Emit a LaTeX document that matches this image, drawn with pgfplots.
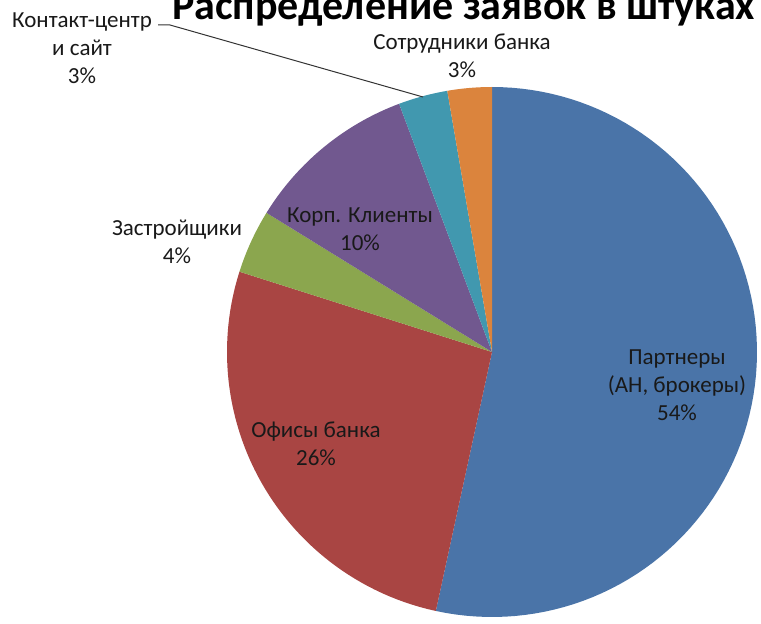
\documentclass[border=0pt]{standalone}
\usepackage{pgfplots}
\pgfplotsset{compat=1.18}
\usepackage{fontspec}
\setmainfont{Carlito}
\definecolor{cBlue}{HTML}{4A74A8}
\definecolor{cRed}{HTML}{A94543}
\definecolor{cGreen}{HTML}{8BA64E}
\definecolor{cPurple}{HTML}{71588F}
\definecolor{cTeal}{HTML}{4198AF}
\definecolor{cOrange}{HTML}{DB843D}
% shares (percent), clockwise from 12 o'clock
\def\pP{53.4}\def\pO{26.5}\def\pZ{3.9}\def\pK{10.5}\def\pC{3.0}\def\pS{2.7}
\pgfmathsetmacro\angA{90}
\pgfmathsetmacro\angB{\angA-3.6*\pP}
\pgfmathsetmacro\angC{\angB-3.6*\pO}
\pgfmathsetmacro\angD{\angC-3.6*\pZ}
\pgfmathsetmacro\angE{\angD-3.6*\pK}
\pgfmathsetmacro\angF{\angE-3.6*\pC}
\pgfmathsetmacro\angG{\angF-3.6*\pS}
\begin{document}
\begin{tikzpicture}
\begin{axis}[
  scale only axis, width=761pt, height=624pt,
  xmin=0, xmax=761, ymin=0, ymax=624,
  hide axis, clip=false,
  every axis plot/.append style={draw=none, samples=90, variable=\t},
]
\addplot[fill=cBlue, domain=\angB:\angA] ({492+265*cos(\t)},{272+265*sin(\t)}) -- (axis cs:492,272) -- cycle;
\addplot[fill=cRed, domain=\angC:\angB] ({492+265*cos(\t)},{272+265*sin(\t)}) -- (axis cs:492,272) -- cycle;
\addplot[fill=cGreen, domain=\angD:\angC] ({492+265*cos(\t)},{272+265*sin(\t)}) -- (axis cs:492,272) -- cycle;
\addplot[fill=cPurple, domain=\angE:\angD] ({492+265*cos(\t)},{272+265*sin(\t)}) -- (axis cs:492,272) -- cycle;
\addplot[fill=cTeal, domain=\angF:\angE] ({492+265*cos(\t)},{272+265*sin(\t)}) -- (axis cs:492,272) -- cycle;
\addplot[fill=cOrange, domain=\angG:\angF] ({492+265*cos(\t)},{272+265*sin(\t)}) -- (axis cs:492,272) -- cycle;
% leader line
\draw[black!80, line width=1pt] (axis cs:158,599) -- (axis cs:170,599) -- (axis cs:423,527);
% labels
\tikzset{lbl/.style={align=center, text=black!90, font=\fontsize{23}{28}\selectfont, inner sep=0pt}}
\node[lbl] at (axis cs:82,576) {Контакт-центр\\и сайт\\3\%};
\node[lbl] at (axis cs:462,568) {Сотрудники банка\\3\%};
\node[lbl] at (axis cs:177,382) {Застройщики\\4\%};
\node[lbl] at (axis cs:360,395) {Корп. Клиенты\\10\%};
\node[lbl] at (axis cs:677,239) {Партнеры\\(АН, брокеры)\\54\%};
\node[lbl] at (axis cs:316,180) {Офисы банка\\26\%};
% title (cut off by the frame, as in the reference)
\node[anchor=base west, inner sep=0pt, font=\fontsize{42}{48}\selectfont\bfseries] at (axis cs:172,604) {Распределение заявок в штуках};
\end{axis}
\pgfresetboundingbox
\path[use as bounding box] (0,0) rectangle (761pt,624pt);
\end{tikzpicture}
\end{document}
